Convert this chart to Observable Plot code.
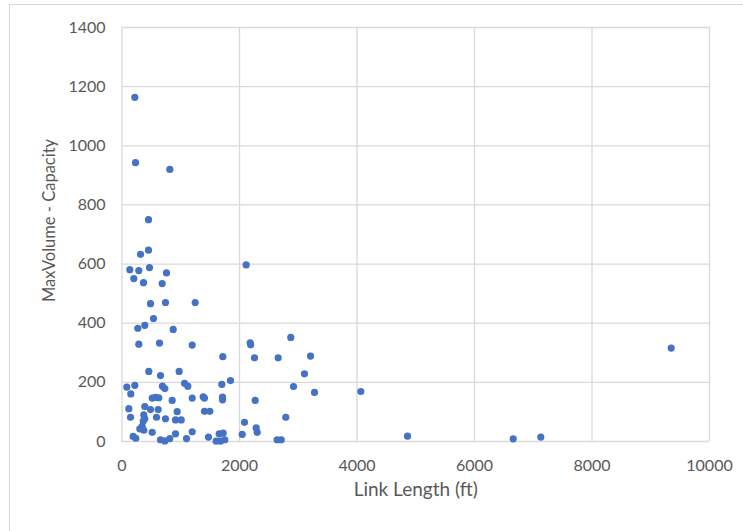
<!DOCTYPE html>
<html><head><meta charset="utf-8">
<script src="https://cdn.jsdelivr.net/npm/d3@7"></script>
<script src="https://cdn.jsdelivr.net/npm/@observablehq/plot@0.6"></script>
<style>
body{margin:0;background:#fff;}
#wrap{position:relative;width:743px;height:531px;overflow:hidden;background:#fff;}
#border{position:absolute;left:9px;top:4px;width:800px;height:600px;border:1.5px solid #d9d9d9;box-sizing:border-box;}
#chart{position:absolute;left:0;top:0;}
</style></head><body>
<div id="wrap"><div id="border"></div><div id="chart"></div></div>
<script>
const linkLength = [
  218, 230, 814, 451, 451, 315, 133, 286, 468, 757, 201, 366, 684, 2114,
  485, 740, 1246, 536, 269, 388, 871, 286, 638, 1195, 2182, 2190, 2255, 1716,
  2873, 2658, 3209, 3106, 2919, 3277, 4065, 2267, 2788, 2284, 2301, 2641, 2710,
  4860, 6659, 7129, 9348, 456, 655, 973, 82, 218, 150, 689, 729, 1064, 1120,
  1699, 1847, 514, 570, 626, 854, 1195, 1382, 1404, 1711, 1711, 116, 388, 485,
  616, 939, 1404, 1495, 145, 371, 388, 587, 740, 911, 1008, 361, 344, 303, 371,
  514, 911, 1195, 2085, 190, 235, 655, 729, 814, 1098, 1472, 1654, 1722, 1603,
  1677, 1750, 2046
];
const maxVolumeMinusCapacity = [
  1164, 943, 920, 750, 647, 633, 581, 578, 588, 570, 551, 537, 534, 597,
  466, 470, 470, 416, 383, 393, 379, 329, 333, 326, 334, 327, 283, 287,
  352, 283, 289, 229, 186, 166, 169, 139, 82, 46, 31, 6, 6,
  18, 9, 15, 316, 237, 223, 237, 184, 190, 161, 187, 179, 197, 187,
  193, 206, 147, 149, 148, 139, 147, 151, 147, 150, 141, 111, 118, 108,
  108, 101, 102, 102, 82, 90, 77, 82, 77, 73, 73, 69, 51, 43, 38,
  31, 26, 33, 65, 17, 11, 6, 2, 10, 10, 15, 26, 28, 1,
  1, 6, 24
];
const xTicks = [0, 2000, 4000, 6000, 8000, 10000];
const yTicks = [0, 200, 400, 600, 800, 1000, 1200, 1400];
const xTitle = "Link Length (ft)";
const yTitle = "MaxVolume - Capacity";

const data = linkLength.map((x, i) => ({x, y: maxVolumeMinusCapacity[i]}));

const chart = Plot.plot({
  width: 743, height: 531,
  marginLeft: 121.5, marginRight: 34, marginTop: 27, marginBottom: 90,
  style: {fontFamily: "Lato", fontSize: "16px", color: "#595959", background: "transparent", overflow: "visible"},
  x: {domain: [0, 10000]},
  y: {domain: [0, 1400]},
  marks: [
    Plot.gridX(xTicks, {stroke: "#d9d9d9", strokeOpacity: 1, strokeWidth: 1.3}),
    Plot.gridY(yTicks, {stroke: "#d9d9d9", strokeOpacity: 1, strokeWidth: 1.3}),
    Plot.axisX({ticks: xTicks, tickSize: 0, tickPadding: 18, label: null, tickFormat: d => String(d), fill: "#595959"}),
    Plot.axisY({ticks: yTicks, tickSize: 0, tickPadding: 16.5, label: null, tickFormat: d => String(d), fill: "#595959"}),
    Plot.text([xTitle], {text: d => d, frameAnchor: "bottom", textAnchor: "middle", dy: 54.6, fontSize: 19, fill: "#595959"}),
    Plot.text([yTitle], {text: d => d, frameAnchor: "left", textAnchor: "middle", dx: -72, dy: -14, rotate: -90, fontSize: 16.5, fill: "#595959"}),
    Plot.dot(data, {x: "x", y: "y", r: 3.6, fill: "#4472C4", stroke: "none"})
  ]
});
document.getElementById("chart").appendChild(chart);
</script>
</body></html>
